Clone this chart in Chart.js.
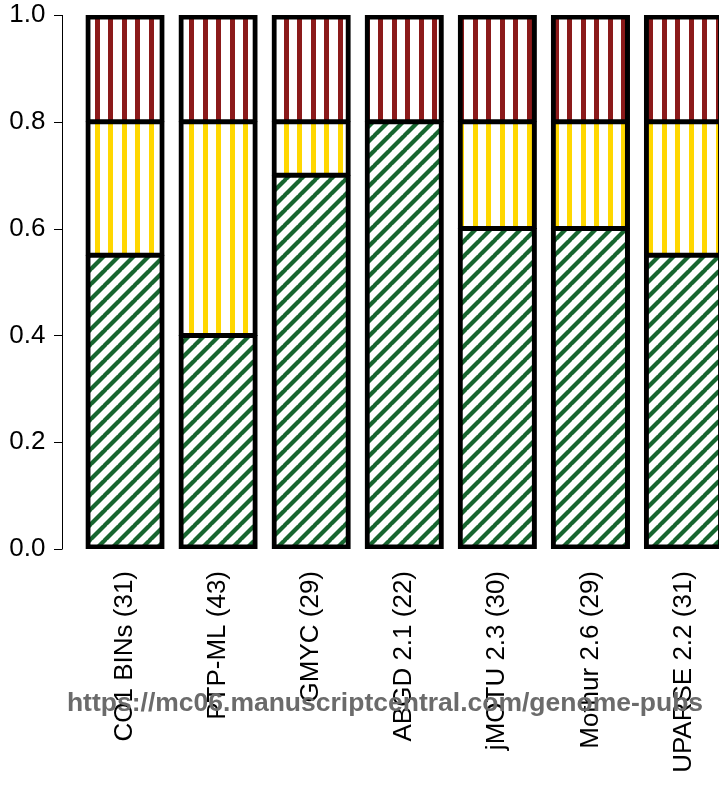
<!DOCTYPE html>
<html>
<head>
<meta charset="utf-8">
<script src="https://cdn.jsdelivr.net/npm/chart.js@4"></script>
<style>
  html, body { margin: 0; padding: 0; background: #fff; overflow: hidden; }
</style>
</head>
<body>
<canvas id="chart" width="740" height="790"></canvas>
<script>
// data
const categories = ['CO1 BINs (31)', 'PTP-ML (43)', 'GMYC (29)', 'ABGD 2.1 (22)', 'jMOTU 2.3 (30)', 'Mothur 2.6 (29)', 'UPARSE 2.2 (31)'];
const greenValues = [0.55, 0.40, 0.70, 0.80, 0.60, 0.60, 0.55];
const yellowValues = [0.25, 0.40, 0.10, 0.00, 0.20, 0.20, 0.25];
const redValues = [0.20, 0.20, 0.20, 0.20, 0.20, 0.20, 0.20];
const yTicks = [0, 0.2, 0.4, 0.6, 0.8, 1.0];

const FONT = "'Liberation Sans', Arial, sans-serif";
const WATERMARK = 'https://mc06.manuscriptcentral.com/genome-pubs';

function diagonalPattern(color) {
  const s = 15;
  const c = document.createElement('canvas');
  c.width = s; c.height = s;
  const g = c.getContext('2d');
  g.fillStyle = '#fff';
  g.fillRect(0, 0, s, s);
  g.strokeStyle = color;
  g.lineWidth = 4.2;
  for (const o of [-s, 0, s]) {
    g.beginPath();
    g.moveTo(o - 1, s + 1);
    g.lineTo(o + s + 1, -1);
    g.stroke();
  }
  return g.createPattern(c, 'repeat');
}

function stripePattern(color) {
  const c = document.createElement('canvas');
  c.width = 27; c.height = 10;
  const g = c.getContext('2d');
  g.fillStyle = '#fff';
  g.fillRect(0, 0, 27, 10);
  g.fillStyle = color;
  g.fillRect(0, 0, 5, 10);
  g.fillRect(14, 0, 5, 10);
  return g.createPattern(c, 'repeat');
}

// R-style detached y axis + watermark
const decorations = {
  id: 'decorations',
  afterDraw(chart) {
    const ctx = chart.ctx;
    const y = chart.scales.y;
    const ax = 62;
    ctx.save();
    ctx.strokeStyle = '#000';
    ctx.lineWidth = 1;
    ctx.beginPath();
    ctx.moveTo(ax + 0.5, y.getPixelForValue(0));
    ctx.lineTo(ax + 0.5, y.getPixelForValue(1));
    yTicks.forEach(v => {
      const py = Math.round(y.getPixelForValue(v)) + 0.5;
      ctx.moveTo(ax - 8, py);
      ctx.lineTo(ax + 0.5, py);
    });
    ctx.stroke();

    ctx.font = 'bold 26.5px ' + FONT;
    ctx.fillStyle = '#6b6b6b';
    ctx.textAlign = 'center';
    ctx.textBaseline = 'alphabetic';
    ctx.fillText(WATERMARK, 385, 711);
    ctx.restore();
  }
};

const ctx = document.getElementById('chart').getContext('2d');
const edge = 5, inner = 3;

new Chart(ctx, {
  type: 'bar',
  data: {
    labels: categories,
    datasets: [
      {
        label: 'green',
        data: greenValues,
        backgroundColor: diagonalPattern('#17662f'),
        borderColor: '#000',
        borderWidth: { top: inner, right: edge, bottom: edge, left: edge },
        borderSkipped: false,
        inflateAmount: 0.5
      },
      {
        label: 'yellow',
        data: yellowValues,
        backgroundColor: stripePattern('#ffd700'),
        borderColor: '#000',
        borderWidth: { top: inner, right: edge, bottom: inner, left: edge },
        borderSkipped: false,
        inflateAmount: 0.5
      },
      {
        label: 'red',
        data: redValues,
        backgroundColor: stripePattern('#8b1a1a'),
        borderColor: '#000',
        borderWidth: { top: edge, right: edge, bottom: inner, left: edge },
        borderSkipped: false,
        inflateAmount: 0.5
      }
    ]
  },
  options: {
    responsive: false,
    animation: false,
    events: [],
    layout: { padding: { top: 15, right: 10, bottom: 0, left: 0 } },
    datasets: { bar: { categoryPercentage: 1, barPercentage: 0.84 } },
    plugins: {
      legend: { display: false },
      tooltip: { enabled: false },
      title: { display: false }
    },
    scales: {
      x: {
        stacked: true,
        grid: { display: false, drawTicks: false },
        border: { display: false },
        ticks: {
          autoSkip: false,
          maxRotation: 90,
          minRotation: 90,
          padding: 22,
          color: '#000',
          font: { family: FONT, size: 26 }
        },
        afterFit(scale) { scale.height = 241; }
      },
      y: {
        stacked: true,
        min: 0,
        max: 1,
        grid: { display: false, drawTicks: false },
        border: { display: false },
        afterBuildTicks(scale) { scale.ticks = yTicks.map(v => ({ value: v })); },
        ticks: {
          padding: 33,
          color: '#000',
          font: { family: FONT, size: 26 },
          callback: v => v.toFixed(1)
        },
        afterFit(scale) {
          scale.width = 78.5;
          scale.paddingTop = 0;
          scale.paddingBottom = 0;
        }
      }
    }
  },
  plugins: [decorations]
});
</script>
</body>
</html>
